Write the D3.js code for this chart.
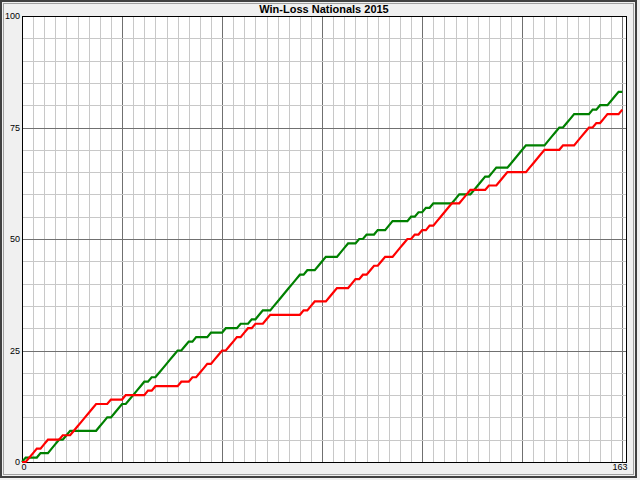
<!DOCTYPE html>
<html><head><meta charset="utf-8">
<script src="https://cdn.jsdelivr.net/npm/d3@7/dist/d3.min.js"></script>
<style>
html,body{margin:0;padding:0;background:#f0f0f0;}
svg{display:block;font-family:"Liberation Sans",Arial,sans-serif;}
</style>
</head><body>
<svg id="chart" width="640" height="480"></svg>
<script>
// ---- data ----
const title = "Win-Loss Nationals 2015";
// game-by-game results, blocks of 10 games
const results = [
  "WLLLWLLWWW", "LWWLLLLLLL", "WWWLWWWLWW", "WWWLWLWWWW",
  "WWLWWLWLLL", "WLLLWLLLWL", "LWLWWLLWWW", "WWWWWLWLLW",
  "WWLLLWWWLL", "WLWLLWLLWW", "LLLLWLWLWL", "WLLLLLWWLL",
  "LWWWWLWWLL", "LWWWWWLLLL", "LWWWWLWWWL", "LLLWLWLLWW",
  "WL"
];
const seriesNames = ["Wins", "Losses"];
const seriesColors = ["#008000", "#ff0000"];
const yTickValues = [0, 25, 50, 75, 100];
const xTickValues = [0, 163];
const xDomain = [0, 163];
const yDomain = [0, 100];

// ---- build cumulative series ----
const games = results.join("").split("");
const winPts = [{g: 0, v: 0}], lossPts = [{g: 0, v: 0}];
let w = 0, l = 0;
games.forEach((r, i) => {
  if (r === "W") w++; else l++;
  winPts.push({g: i + 1, v: w});
  lossPts.push({g: i + 1, v: l});
});

const svg = d3.select("#chart");
const W = 640, H = 480;
const plot = {left: 22, right: 626, top: 16, bottom: 462};

const x = d3.scaleLinear().domain(xDomain).range([plot.left, plot.right]);
const y = d3.scaleLinear().domain(yDomain).range([plot.bottom, plot.top]);

// window frame
svg.append("rect").attr("x", 0).attr("y", 0).attr("width", W).attr("height", H).attr("fill", "#f0f0f0");
svg.append("rect").attr("x", 1).attr("y", 1).attr("width", 635).attr("height", 476)
  .attr("fill", "none").attr("stroke", "#404040").attr("stroke-width", 2);
svg.append("rect").attr("x", 3.5).attr("y", 3.5).attr("width", 630).attr("height", 471)
  .attr("fill", "none").attr("stroke", "#a0a0a0").attr("stroke-width", 1);

// plot background
svg.append("rect").attr("x", plot.left).attr("y", plot.top)
  .attr("width", plot.right - plot.left).attr("height", plot.bottom - plot.top)
  .attr("fill", "#ffffff");

// grid
const g = svg.append("g").attr("shape-rendering", "crispEdges");
const xGrid = d3.range(3, 163, 3);
const yGrid = d3.range(5, 100, 5);
g.selectAll("line.vx").data(xGrid).join("line")
  .attr("x1", d => Math.round(x(d)) + 0.5).attr("x2", d => Math.round(x(d)) + 0.5)
  .attr("y1", plot.top).attr("y2", plot.bottom)
  .attr("stroke", d => d % 27 === 0 ? "#707070" : "#c8c8c8").attr("stroke-width", 1);
g.selectAll("line.hy").data(yGrid).join("line")
  .attr("y1", d => Math.round(y(d)) + 0.5).attr("y2", d => Math.round(y(d)) + 0.5)
  .attr("x1", plot.left).attr("x2", plot.right)
  .attr("stroke", d => d % 25 === 0 ? "#707070" : "#c8c8c8").attr("stroke-width", 1);

// plot border
svg.append("rect").attr("x", plot.left + 0.5).attr("y", plot.top + 0.5)
  .attr("width", plot.right - plot.left).attr("height", plot.bottom - plot.top)
  .attr("fill", "none").attr("stroke", "#000").attr("stroke-width", 1)
  .attr("shape-rendering", "crispEdges");

// axes (labels only)
const yAxis = d3.axisLeft(y).tickValues(yTickValues).tickSize(0).tickPadding(2);
const ya = svg.append("g").attr("transform", `translate(${plot.left},0)`).call(yAxis);
ya.select(".domain").remove();
ya.selectAll("text").attr("font-size", 9).attr("fill", "#000")
  .attr("font-family", "'Liberation Sans',Arial,sans-serif");

const xAxis = d3.axisBottom(x).tickValues(xTickValues).tickSize(0).tickPadding(2);
const xa = svg.append("g").attr("transform", `translate(0,${plot.bottom})`).call(xAxis);
xa.select(".domain").remove();
xa.selectAll("text").attr("font-size", 9).attr("fill", "#000")
  .attr("font-family", "'Liberation Sans',Arial,sans-serif")
  .attr("text-anchor", (d, i) => i === 0 ? "start" : "end")
  .attr("dx", (d, i) => i === 0 ? -1 : 1);

// title
svg.append("text").attr("x", (plot.left + plot.right) / 2).attr("y", 13)
  .attr("text-anchor", "middle").attr("font-size", 11).attr("font-weight", "bold")
  .attr("fill", "#000").text(title);

// lines
const line = d3.line().x(d => x(d.g)).y(d => y(d.v));
const series = [winPts, lossPts];
svg.append("g").selectAll("path").data(series).join("path")
  .attr("d", line)
  .attr("fill", "none")
  .attr("stroke", (d, i) => seriesColors[i])
  .attr("stroke-width", 2.2)
  .attr("stroke-linejoin", "miter");
</script>
</body></html>
